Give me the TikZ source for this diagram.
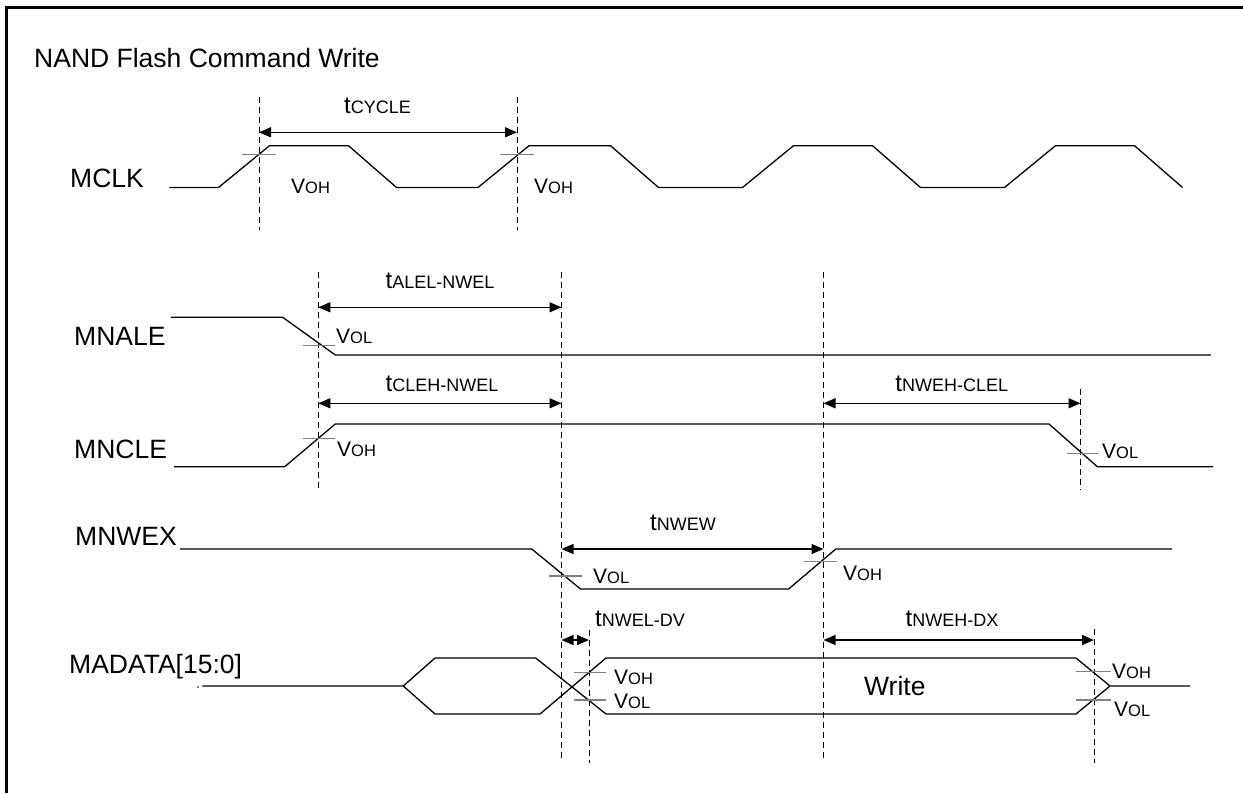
\documentclass[tikz,border=0pt]{standalone}
\usepackage{fontspec}
\setmainfont{Liberation Sans}
\usetikzlibrary{arrows.meta}
\newcommand\Vs[1]{{\fontsize{21}{24}\selectfont V}{\fontsize{16.5}{18}\selectfont #1}}
\newcommand\Ts[1]{{\fontsize{24}{26}\selectfont t}{\fontsize{18}{20}\selectfont #1}}
\tikzset{
  sig/.style={line width=1.3pt, line join=miter},
  guide/.style={line width=1pt, dash pattern=on 6pt off 4pt},
  thr/.style={line width=1.3pt, draw=black!50},
  dim/.style={line width=1.3pt, {Triangle[length=12pt,width=10pt]}-{Triangle[length=12pt,width=10pt]}},
  lbl/.style={anchor=base west, inner sep=0pt, font=\fontsize{26.5}{30}\selectfont},
  sml/.style={anchor=base west, inner sep=0pt},
}
\begin{document}
\begin{tikzpicture}[x=1pt,y=-1pt]
\useasboundingbox (0,0) rectangle (1243,793);
% frame
\draw[line width=3pt] (6,793) -- (6,7) -- (1243,7);
\node[lbl] (title) at (34,67) {NAND Flash Command Write};

% ---------- MCLK ----------
\node[lbl] (mclk) at (70,187.3) {MCLK};
\draw[sig] (169.3,187.5) -- (218.5,187.5) -- (269.5,145.7) -- (348.5,145.7) -- (396.5,187.5)
  -- (478,187.5) -- (529,145.7) -- (610.5,145.7) -- (658.5,187.5) -- (742.5,187.5)
  -- (793.5,145.7) -- (872.5,145.7) -- (920.5,187.5) -- (1004.5,187.5) -- (1055.5,145.7)
  -- (1134.5,145.7) -- (1182.5,187.5);
\coordinate (g1t) at (259,96.7);  \coordinate (g1b) at (259,230);
\coordinate (g2t) at (517,96.7);  \coordinate (g2b) at (517,230);
\draw[guide] (g1t) -- (g1b);
\draw[guide] (g2t) -- (g2b);
\draw[thr] (242.4,154.3) -- (275.6,154.3);
\draw[thr] (500,154.3) -- (534,154.3);
\coordinate (a1l) at (259,132.3); \coordinate (a1r) at (517,132.3);
\draw[dim] (a1l) -- (a1r);
\node[sml] (tcyc) at (344,113.3) {\Ts{CYCLE}};
\node[sml] (voh1) at (291,193.3) {\Vs{OH}};
\node[sml] (voh2) at (534,193.3) {\Vs{OH}};

% ---------- guides for middle section ----------
\coordinate (g3t) at (318.3,272.3); \coordinate (g3b) at (318.3,490);
\coordinate (g4t) at (561.5,272.3); \coordinate (g4b) at (561.5,760);
\coordinate (g5t) at (823.5,272.3); \coordinate (g5b) at (823.5,760);
\coordinate (g6t) at (1080.5,389.3); \coordinate (g6b) at (1080.5,490);
\coordinate (g7t) at (589,630); \coordinate (g7b) at (589,763);
\coordinate (g8t) at (1094,629.3); \coordinate (g8b) at (1094,763);
\foreach \g in {3,...,8} \draw[guide] (g\g t) -- (g\g b);

% ---------- MNALE ----------
\node[lbl] (mnale) at (74,345) {MNALE};
\draw[sig] (170.8,317.3) -- (282.7,317.3) -- (335.3,355) -- (1210.9,355);
\draw[thr] (302.5,345.3) -- (335.3,345.3);
\node[sml] (vol1) at (336,343.3) {\Vs{OL}};
\draw[dim] (318.3,307.3) -- (561.5,307.3);
\node[sml] (talel) at (385.5,288.3) {\Ts{ALEL-NWEL}};

% ---------- MNCLE ----------
\node[lbl] (mncle) at (74,458.3) {MNCLE};
\draw[sig] (174,466.7) -- (284.7,466.7) -- (335.3,424) -- (1049,424) -- (1097.3,466.7) -- (1213,466.7);
\draw[thr] (302.5,438.7) -- (335.3,438.7);
\draw[thr] (1066.6,453.3) -- (1098.2,453.3);
\node[sml] (voh3) at (337,456) {\Vs{OH}};
\node[sml] (vol2) at (1102,458.3) {\Vs{OL}};
\draw[dim] (318.3,403.3) -- (561.5,403.3);
\draw[dim] (823.5,403.3) -- (1080.5,403.3);
\node[sml] (tcleh) at (385.5,391.7) {\Ts{CLEH-NWEL}};
\node[sml] (tnweh) at (895.2,391.7) {\Ts{NWEH-CLEL}};

% ---------- MNWEX ----------
\node[lbl] (mnwex) at (75,545.7) {MNWEX};
\draw[sig] (180,549) -- (531.8,549) -- (580.5,589) -- (788.6,589) -- (835.8,549) -- (1172,549);
\draw[thr] (548.8,576) -- (582.4,576);
\draw[thr] (803.8,561.7) -- (836.6,561.7);
\node[sml] (vol3) at (593,583.3) {\Vs{OL}};
\node[sml] (voh4) at (843,580) {\Vs{OH}};
\draw[dim] (561.5,549) -- (823.5,549);
\node[sml] (tnwew) at (650,530) {\Ts{NWEW}};

% ---------- MADATA ----------
\node[lbl] (mad) at (69,673.3) {MADATA[15:0]};
\fill (198,687) circle (0.8);
\draw[sig] (202.4,686) -- (403.3,686) -- (435,658) -- (535.7,658) -- (606,714) -- (1076,714) -- (1110,686) -- (1190,686);
\draw[sig] (403.3,686) -- (435,714) -- (540,714) -- (606,658) -- (1076,658) -- (1110,686);
\draw[thr] (574,672.7) -- (606,672.7);
\draw[thr] (574,700) -- (606,700);
\draw[thr] (1076,671.7) -- (1110.7,671.7);
\draw[thr] (1076,700) -- (1110.7,700);
\node[sml] (voh5) at (614,684) {\Vs{OH}};
\node[sml] (vol4) at (614,708.3) {\Vs{OL}};
\node[sml] (voh6) at (1112,678.3) {\Vs{OH}};
\node[sml] (vol5) at (1114,716.7) {\Vs{OL}};
\node[lbl] (write) at (864,695) {Write};
\draw[dim] (561.5,640) -- (589,640);
\draw[dim] (823.5,640) -- (1094,640);
\node[sml] (tnwel) at (595,626.7) {\Ts{NWEL-DV}};
\node[sml] (tnwdx) at (905.5,626.7) {\Ts{NWEH-DX}};
\end{tikzpicture}
\end{document}
